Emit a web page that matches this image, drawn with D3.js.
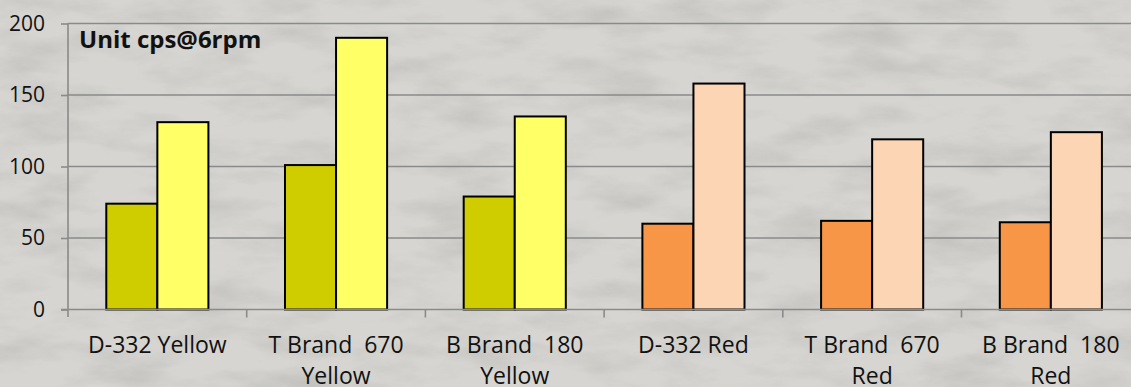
<!DOCTYPE html>
<html>
<head>
<meta charset="utf-8">
<script src="https://cdn.jsdelivr.net/npm/d3@7"></script>
<style>
  html, body { margin: 0; padding: 0; background: #d3d2ce; }
  svg { display: block; }
  text { font-family: "Open Sans", Lato, sans-serif; fill: #111; }
</style>
</head>
<body>
<svg id="chart" width="1131" height="387"></svg>
<script>
// ---- data ----
const categories = [
  "D-332 Yellow",
  "T Brand  670\nYellow",
  "B Brand  180\nYellow",
  "D-332 Red",
  "T Brand  670\nRed",
  "B Brand  180\nRed"
];
const seriesA = [74, 101, 79, 60, 62, 61];
const seriesB = [131, 190, 135, 158, 119, 124];
const colorsA = ["#cfcc00", "#cfcc00", "#cfcc00", "#f79646", "#f79646", "#f79646"];
const colorsB = ["#ffff66", "#ffff66", "#ffff66", "#fcd5b4", "#fcd5b4", "#fcd5b4"];
const yTicks = [0, 50, 100, 150, 200];
const titleText = "Unit cps@6rpm";

// ---- layout ----
const W = 1131, H = 387;
const plotLeft = 68, catStep = 178.7;
const plotTop = 23.5, plotBottom = 309.5;

const svg = d3.select("#chart");

// textured background
const defs = svg.append("defs");
const f = defs.append("filter").attr("id", "granite")
  .attr("x", 0).attr("y", 0).attr("width", "100%").attr("height", "100%");
f.append("feTurbulence").attr("type", "fractalNoise")
  .attr("baseFrequency", "0.012 0.035").attr("numOctaves", 5).attr("seed", 7).attr("result", "n");
f.append("feColorMatrix").attr("in", "n").attr("type", "matrix")
  .attr("values", "0 0 0 0 0.35  0 0 0 0 0.35  0 0 0 0 0.34  1.3 0 0 0 -0.55");
svg.append("rect").attr("width", W).attr("height", H).attr("fill", "#d6d5d1");
svg.append("rect").attr("width", W).attr("height", H).attr("filter", "url(#granite)").attr("opacity", 0.55);

// scales
const x = d3.scaleBand().domain(categories).range([plotLeft, plotLeft + catStep * categories.length]).padding(0);
const xs = d3.scaleBand().domain(["a", "b"]).range([0, x.bandwidth()]).paddingInner(0).paddingOuter(0.75);
const y = d3.scaleLinear().domain([0, 200]).range([plotBottom, plotTop]);

// gridlines
svg.append("g").selectAll("line").data(yTicks.filter(d => d > 0)).join("line")
  .attr("x1", plotLeft).attr("x2", W)
  .attr("y1", d => y(d)).attr("y2", d => y(d))
  .attr("stroke", "#8a8a8a").attr("stroke-width", 1.6);

// y axis
const yAxis = svg.append("g").attr("transform", `translate(${plotLeft},0)`)
  .call(d3.axisLeft(y).tickValues(yTicks).tickSize(7).tickPadding(16));
yAxis.select(".domain").attr("stroke", "#8a8a8a").attr("stroke-width", 1.6)
  .attr("d", `M0,${y(200)}V${plotBottom + 7.5}`);
yAxis.selectAll(".tick line").attr("stroke", "#8a8a8a").attr("stroke-width", 1.6);
yAxis.selectAll(".tick text").style("font-size", "21px").style("font-family", "'Open Sans', sans-serif").attr("fill", "#111");

// bars
const groups = svg.append("g").selectAll("g").data(categories).join("g")
  .attr("transform", c => `translate(${x(c)},0)`);
groups.append("rect")
  .attr("x", xs("a")).attr("width", xs.bandwidth())
  .attr("y", (c, i) => y(seriesA[i])).attr("height", (c, i) => y(0) - y(seriesA[i]))
  .attr("fill", (c, i) => colorsA[i]).attr("stroke", "#000").attr("stroke-width", 2);
groups.append("rect")
  .attr("x", xs("b")).attr("width", xs.bandwidth())
  .attr("y", (c, i) => y(seriesB[i])).attr("height", (c, i) => y(0) - y(seriesB[i]))
  .attr("fill", (c, i) => colorsB[i]).attr("stroke", "#000").attr("stroke-width", 2);

// x axis
const xAxisG = svg.append("g");
xAxisG.append("line").attr("x1", plotLeft - 7).attr("x2", W).attr("y1", plotBottom).attr("y2", plotBottom)
  .attr("stroke", "#8a8a8a").attr("stroke-width", 1.6);
xAxisG.selectAll("line.tk").data(categories).join("line").attr("class", "tk")
  .attr("x1", c => x(c) + x.bandwidth()).attr("x2", c => x(c) + x.bandwidth())
  .attr("y1", plotBottom).attr("y2", plotBottom + 8)
  .attr("stroke", "#8a8a8a").attr("stroke-width", 1.6);

const labels = xAxisG.selectAll("text.lbl").data(categories).join("text").attr("class", "lbl")
  .attr("x", c => x(c) + x.bandwidth() / 2).attr("y", 353)
  .attr("text-anchor", "middle").style("font-size", "23px").style("white-space", "pre");
labels.each(function (c) {
  const t = d3.select(this);
  c.split("\n").forEach((line, k) => {
    t.append("tspan").attr("x", x(c) + x.bandwidth() / 2).attr("dy", k === 0 ? 0 : 31)
      .style("white-space", "pre").text(line);
  });
});

// title
svg.append("text").attr("x", 79).attr("y", 47.5)
  .style("font-size", "24px").style("font-weight", "bold").text(titleText);
</script>
</body>
</html>
